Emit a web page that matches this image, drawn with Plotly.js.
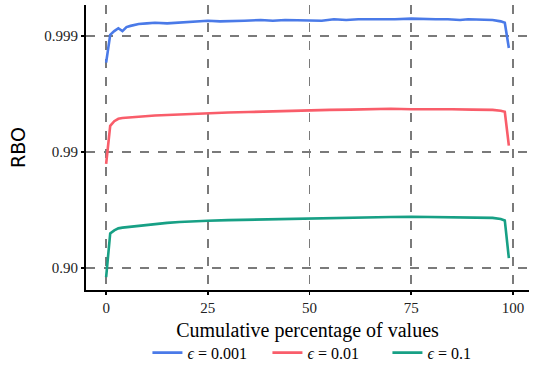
<!DOCTYPE html>
<html>
<head>
<meta charset="utf-8">
<script src="https://cdn.plot.ly/plotly-3.0.1.min.js"></script>
<style>html,body{margin:0;padding:0;background:#fff;}#chart{width:536px;height:375px;}</style>
</head>
<body>
<div id="chart"></div>
<script>
// Cumulative percentage of values
const xBlue = [0,1,2,3,4,5,6,8,10,12,15,18,21,25,28,31,34,38,41,44,47,50,53,56,59,62,65,68,71,75,78,81,84,87,89,92,95,97,98,99];
const rboBlue = [0.99830,0.99902,0.99909,0.99914,0.99909,0.99916,0.99918,0.99921,0.99922,0.99923,0.99922,0.99923,0.99924,0.99926,0.99925,0.99926,0.99926,0.99927,0.99926,0.99927,0.99927,0.99927,0.99926,0.99928,0.99927,0.99928,0.99928,0.99927,0.99928,0.99929,0.99928,0.99928,0.99928,0.99927,0.99928,0.99928,0.99927,0.99925,0.99923,0.99873];

const xRed = [0,1,2,3,4,6,8,10,12,15,18,21,25,30,35,40,45,50,55,60,65,70,75,80,85,90,95,97,98,99];
const rboRed = [0.98732,0.99404,0.99457,0.99482,0.99490,0.99498,0.99504,0.99509,0.99515,0.99519,0.99524,0.99531,0.99539,0.99543,0.99547,0.99553,0.99558,0.99562,0.99566,0.99568,0.99571,0.99576,0.99571,0.99573,0.99571,0.99568,0.99566,0.99558,0.99549,0.99117];

const xGreen = [0,1,2,3,4,6,8,10,12,15,18,21,25,30,35,40,45,50,55,60,65,70,75,80,85,90,95,97,98,99];
const rboGreen = [0.8806,0.94977,0.95268,0.9545,0.95513,0.95594,0.95685,0.95754,0.95812,0.95917,0.95991,0.96046,0.96092,0.96136,0.96172,0.96207,0.96242,0.96259,0.96285,0.96310,0.96336,0.96369,0.96386,0.96369,0.96352,0.96345,0.96302,0.96224,0.9611,0.91778];

const seriesNames = ['<i>ϵ</i> = 0.001', '<i>ϵ</i> = 0.01', '<i>ϵ</i> = 0.1'];
const xTicks = [0, 25, 50, 75, 100];
const yTickRBO = [0.90, 0.99, 0.999];
const yTickText = ['0.90', '0.99', '0.999'];

const colors = ['#4A7AE8', '#F95D6A', '#17A085'];
const toGap = arr => arr.map(v => 1 - v);

const traces = [
  {x: xBlue, y: toGap(rboBlue), name: seriesNames[0]},
  {x: xRed, y: toGap(rboRed), name: seriesNames[1]},
  {x: xGreen, y: toGap(rboGreen), name: seriesNames[2]}
].map((t, i) => Object.assign(t, {
  type: 'scatter', mode: 'lines',
  line: {color: colors[i], width: 2.6},
  hoverinfo: 'skip'
}));

const serif = '"Liberation Serif", serif';
const layout = {
  width: 536, height: 375,
  margin: {l: 86, r: 7, t: 5, b: 82},
  paper_bgcolor: '#fff', plot_bgcolor: '#fff',
  showlegend: true,
  legend: {
    orientation: 'h', x: 0.545, xanchor: 'center', y: -0.22, yanchor: 'middle',
    font: {family: serif, size: 16, color: '#000'},
    entrywidth: 75, entrywidthmode: 'pixels', tracegroupgap: 0
  },
  xaxis: {
    range: [-4.95, 103.95],
    tickvals: xTicks, ticktext: xTicks.map(String),
    showgrid: true, gridcolor: '#7a7a7a', gridwidth: 1.6, griddash: 'dash',
    zeroline: false, automargin: false,
    showline: true, linecolor: '#000', linewidth: 2,
    ticks: 'outside', ticklen: 3, tickwidth: 1.5, tickcolor: '#000',
    tickfont: {family: serif, size: 15, color: '#222'},
    title: {text: 'Cumulative percentage of values', font: {family: serif, size: 20, color: '#000'}, standoff: 8},
    fixedrange: true
  },
  yaxis: {
    type: 'log',
    range: [Math.log10(0.1545), Math.log10(0.000542)],
    tickvals: toGap(yTickRBO), ticktext: yTickText,
    showgrid: true, gridcolor: '#7a7a7a', gridwidth: 1.6, griddash: 'dash',
    zeroline: false, automargin: false,
    showline: true, linecolor: '#000', linewidth: 2,
    ticks: 'outside', ticklen: 3, tickwidth: 1.5, tickcolor: '#000',
    tickfont: {family: serif, size: 15, color: '#222'},
    title: {text: 'RBO', font: {family: '"DejaVu Sans", sans-serif', size: 19, color: '#000'}, standoff: 14},
    fixedrange: true
  }
};

Plotly.newPlot('chart', traces, layout, {displayModeBar: false, staticPlot: true});
</script>
</body>
</html>
